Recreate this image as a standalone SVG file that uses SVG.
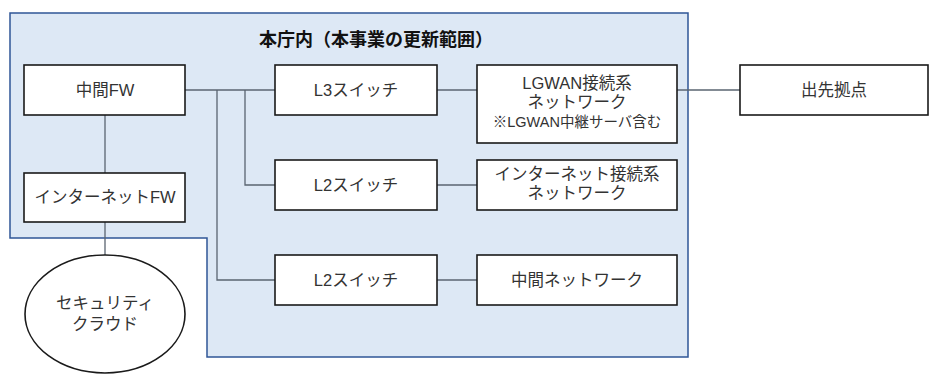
<svg xmlns="http://www.w3.org/2000/svg" width="929" height="374" viewBox="0 0 929 374">
<style>
.box{fill:#fff;stroke:#1a1a1a;stroke-width:1.6}
.t{font-family:"Liberation Sans","Noto Sans CJK JP",sans-serif;font-size:16.5px;fill:#333;text-anchor:middle;dominant-baseline:central}
.s{font-size:14.5px}
.title{font-family:"Noto Sans CJK JP","Noto Sans",sans-serif;font-size:18px;font-weight:bold;fill:#111;text-anchor:middle;dominant-baseline:central}
.c{fill:none;stroke:#5a6470;stroke-width:1.3}
</style>
<rect width="929" height="374" fill="#fff"/>
<g id="region">
<path d="M10,13 H688 V357 H207 V238 H10 Z" fill="#dde8f5" stroke="#2f5597" stroke-width="1.5"/>
<text class="title" x="376" y="38">本庁内（本事業の更新範囲）</text>
</g>
<g id="connectors">
<path class="c" d="M185,90 H275"/>
<path class="c" d="M245,90 V185 H275"/>
<path class="c" d="M217,90 V280 H275"/>
<path class="c" d="M105,115 V173"/>
<path class="c" d="M105,222 V255"/>
<path class="c" d="M437,90 H477"/>
<path class="c" d="M437,185 H477"/>
<path class="c" d="M437,280 H477"/>
<path class="c" d="M677,90 H740"/>
</g>
<g id="chukan-fw"><rect class="box" x="24" y="65" width="161" height="50"/><text class="t" x="105" y="90">中間FW</text></g>
<g id="internet-fw"><rect class="box" x="24" y="173" width="161" height="49"/><text class="t" x="105" y="197">インターネットFW</text></g>
<g id="security-cloud"><ellipse cx="105" cy="314" rx="80" ry="59" fill="#fff" stroke="#1a1a1a" stroke-width="1.6"/><text class="t"><tspan x="105" y="303">セキュリティ</tspan><tspan x="105" y="324">クラウド</tspan></text></g>
<g id="l3"><rect class="box" x="275" y="65" width="162" height="50"/><text class="t" x="356" y="90">L3スイッチ</text></g>
<g id="l2a"><rect class="box" x="275" y="160" width="162" height="50"/><text class="t" x="356" y="185">L2スイッチ</text></g>
<g id="l2b"><rect class="box" x="275" y="255" width="162" height="50"/><text class="t" x="356" y="280">L2スイッチ</text></g>
<g id="lgwan"><rect class="box" x="477" y="65" width="200" height="78"/><text class="t"><tspan x="577" y="83">LGWAN接続系</tspan><tspan x="577" y="102">ネットワーク</tspan><tspan class="s" x="577" y="122">※LGWAN中継サーバ含む</tspan></text></g>
<g id="internet-net"><rect class="box" x="477" y="160" width="200" height="50"/><text class="t"><tspan x="577" y="174">インターネット接続系</tspan><tspan x="577" y="193">ネットワーク</tspan></text></g>
<g id="chukan-net"><rect class="box" x="477" y="255" width="200" height="50"/><text class="t" x="577" y="280">中間ネットワーク</text></g>
<g id="desaki"><rect class="box" x="740" y="65" width="188" height="50"/><text class="t" x="834" y="90">出先拠点</text></g>
</svg>
